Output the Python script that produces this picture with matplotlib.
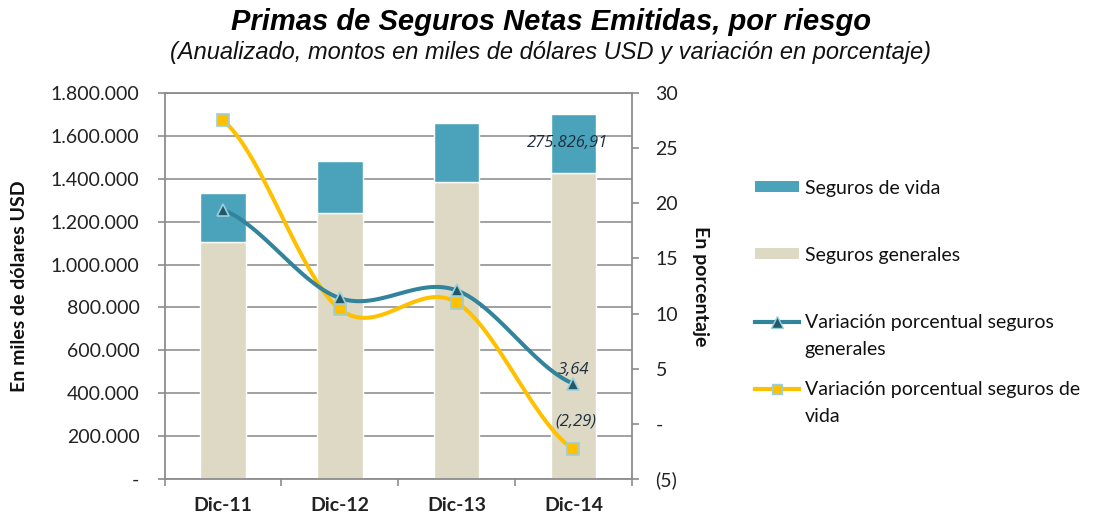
import matplotlib
matplotlib.use("Agg")
import matplotlib.pyplot as plt
import numpy as np
from matplotlib.lines import Line2D
from matplotlib.patches import Patch
from matplotlib.ticker import FixedLocator, FuncFormatter

# ---- data ----
categories = ["Dic-11", "Dic-12", "Dic-13", "Dic-14"]
seguros_generales = [1105000, 1240000, 1385000, 1426000]
seguros_vida = [228500, 242500, 275100, 275826.91]
var_generales = [19.4, 11.4, 12.1, 3.64]
var_vida = [27.5, 10.4, 11.0, -2.29]
left_ticks = [0, 200000, 400000, 600000, 800000, 1000000, 1200000, 1400000, 1600000, 1800000]
right_ticks = [-5, 0, 5, 10, 15, 20, 25, 30]

C_VIDA = "#4AA3BA"
C_GEN = "#DDD9C4"
C_LGEN = "#31849B"
C_LVIDA = "#FFC000"

FONT = "Lato"
FS = 14

fig = plt.figure(figsize=(10.97, 5.19), dpi=100)
ax = fig.add_axes([0.150, 0.077, 0.426, 0.744])
x = np.arange(len(categories))

ax.bar(x, seguros_generales, width=0.39, color=C_GEN, edgecolor="white", linewidth=1.0, zorder=2)
ax.bar(x, seguros_vida, width=0.39, bottom=seguros_generales, color=C_VIDA,
       edgecolor="white", linewidth=1.0, zorder=2)

ax.set_xlim(-0.5, 3.5)
ax.set_ylim(0, 1800000)
ax.yaxis.set_major_locator(FixedLocator(left_ticks))

def fmt_left(v, p):
    if v == 0:
        return "-"
    return f"{int(v):,}".replace(",", ".")

ax.yaxis.set_major_formatter(FuncFormatter(fmt_left))
ax.grid(axis="y", color="#9a9a9a", linewidth=1.3, zorder=0)
ax.set_axisbelow(True)
for s in ax.spines.values():
    s.set_color("#8c8c8c")
    s.set_linewidth(1.3)
ax.set_xticks(x)
ax.set_xticklabels(categories, fontsize=FS, family=FONT, fontweight="bold", color="#222222")
ax.set_xticks(np.arange(-0.5, 4.0, 1.0), minor=True)
ax.tick_params(axis="x", which="major", length=0, pad=13)
ax.tick_params(axis="x", which="minor", length=5, color="#8c8c8c", width=1.2)
ax.tick_params(axis="y", length=5, color="#8c8c8c", width=1.2, labelsize=FS, pad=13)
for lab in ax.get_yticklabels():
    lab.set_family(FONT)
    lab.set_color("#222222")
ax.set_ylabel("En miles de dólares USD", fontsize=FS, family=FONT, fontweight="bold",
              color="#111111")
ax.yaxis.set_label_coords(-0.293, 0.5)

# ---- secondary axis ----
ax2 = ax.twinx()
ax2.set_ylim(-5, 30)
ax2.yaxis.set_major_locator(FixedLocator(right_ticks))

def fmt_right(v, p):
    if v == 0:
        return "-"
    if v < 0:
        return f"({int(-v)})"
    return f"{int(v)}"

ax2.yaxis.set_major_formatter(FuncFormatter(fmt_right))
ax2.tick_params(axis="y", length=5, color="#8c8c8c", width=1.2, labelsize=FS, pad=12)
for lab in ax2.get_yticklabels():
    lab.set_family(FONT)
    lab.set_color("#222222")
for s in ax2.spines.values():
    s.set_visible(False)
ax2.set_ylabel("En porcentaje", fontsize=FS, family=FONT, fontweight="bold",
               color="#111111", rotation=-90, va="center")
ax2.yaxis.set_label_coords(1.146, 0.5)


def smooth(xs, ys, n=40):
    xs = np.asarray(xs, float)
    ys = np.asarray(ys, float)
    px = np.concatenate([[2 * xs[0] - xs[1]], xs, [2 * xs[-1] - xs[-2]]])
    py = np.concatenate([[ys[0]], ys, [ys[-1]]])
    outx, outy = [], []
    for i in range(1, len(px) - 2):
        t = np.linspace(0, 1, n)
        for arr, out in ((px, outx), (py, outy)):
            p0, p1, p2, p3 = arr[i - 1], arr[i], arr[i + 1], arr[i + 2]
            m1 = (p2 - p0) / 2
            m2 = (p3 - p1) / 2
            h00 = 2 * t**3 - 3 * t**2 + 1
            h10 = t**3 - 2 * t**2 + t
            h01 = -2 * t**3 + 3 * t**2
            h11 = t**3 - t**2
            out.extend(h00 * p1 + h10 * m1 + h01 * p2 + h11 * m2)
    return np.array(outx), np.array(outy)

sx, sy = smooth(x, var_vida)
ax2.plot(sx, sy, color=C_LVIDA, linewidth=2.9, zorder=3, solid_capstyle="round")
sx, sy = smooth(x, var_generales)
ax2.plot(sx, sy, color=C_LGEN, linewidth=2.9, zorder=4, solid_capstyle="round")
ax2.plot(x, var_vida, linestyle="none", marker="s", markersize=8, color=C_LVIDA,
         markeredgecolor="#9CCFDD", markeredgewidth=1.2, zorder=5)
ax2.plot(x, var_generales, linestyle="none", marker="^", markersize=9, color="#215967",
         markeredgecolor="#9CCFDD", markeredgewidth=1.2, zorder=6)

# data labels
ax.text(x[3] - 0.05, seguros_generales[3] + seguros_vida[3] * 0.51,
        f"{seguros_vida[3]:,.2f}".replace(",", "X").replace(".", ",").replace("X", "."),
        ha="center", va="center", fontsize=12, style="italic", family="Open Sans",
        color="#1F2F3F", zorder=7)
ax2.text(x[3], var_generales[3] + 1.25, f"{var_generales[3]:.2f}".replace(".", ","),
         ha="center", va="center", fontsize=12, style="italic", family="Open Sans",
         color="#1F2F3F", zorder=7)
ax2.text(x[3] + 0.02, var_vida[3] + 2.46, f"({-var_vida[3]:.2f})".replace(".", ","),
         ha="center", va="center", fontsize=12, style="italic", family="Open Sans",
         color="#1F2F3F", zorder=7)

# legend
handles = [
    Patch(facecolor=C_VIDA, edgecolor="none"),
    Patch(facecolor=C_GEN, edgecolor="none"),
    Line2D([], [], color=C_LGEN, linewidth=3, marker="^", markersize=8,
           markerfacecolor="#215967", markeredgecolor="#9CCFDD"),
    Line2D([], [], color=C_LVIDA, linewidth=3, marker="s", markersize=7,
           markerfacecolor=C_LVIDA, markeredgecolor="#9CCFDD"),
]
labels_first = ["Seguros de vida", "Seguros generales",
                "Variación porcentual seguros", "Variación porcentual seguros de"]
labels_second = [None, None, "generales", "vida"]
leg = fig.legend(handles, labels_first, loc="upper left", bbox_to_anchor=(0.688, 0.654),
                 frameon=False, handlelength=2.3, handleheight=0.5, handletextpad=0.27,
                 labelspacing=2.58, borderpad=0, borderaxespad=0,
                 prop={"family": FONT, "size": FS})
for t in leg.get_texts():
    t.set_color("#111111")

fig.canvas.draw()
inv = fig.transFigure.inverted()
for t, extra in zip(leg.get_texts(), labels_second):
    if extra is None:
        continue
    bb = t.get_window_extent()
    x0, y0 = inv.transform((bb.x0, bb.y0))
    dy = 27 / fig.bbox.height
    fig.text(x0, y0 - dy, extra, ha="left", va="bottom", family=FONT, fontsize=FS,
             color="#111111")

fig.text(0.502, 0.957, "Primas de Seguros Netas Emitidas, por riesgo", ha="center",
         va="center", fontsize=21, fontweight="bold", style="italic",
         family="Liberation Sans", color="#000000")
fig.text(0.502, 0.898, "(Anualizado, montos en miles de dólares USD y variación en porcentaje)",
         ha="center", va="center", fontsize=17, style="italic",
         family="Liberation Sans", color="#111111")

fig.savefig("out.png", dpi=100)
